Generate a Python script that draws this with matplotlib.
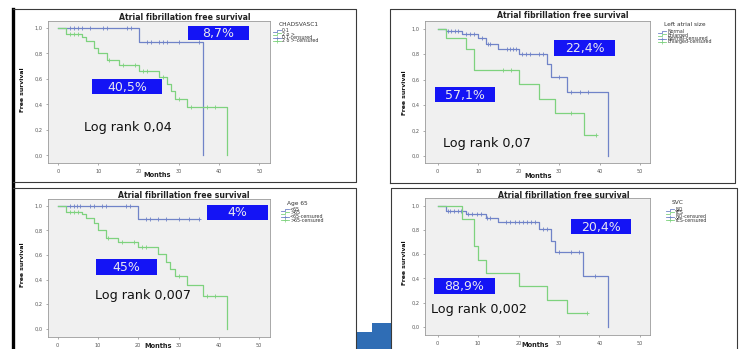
import numpy as np
import matplotlib
matplotlib.use('Agg')
import matplotlib.pyplot as plt
from matplotlib.patches import Rectangle, Polygon

# ---------------- data ----------------
x_ticks = [0, 10, 20, 30, 40, 50]
y_ticks = [0.0, 0.2, 0.4, 0.6, 0.8, 1.0]
y_tick_labels = ["0,0", "0,2", "0,4", "0,6", "0,8", "1,0"]
title_text = "Atrial fibrillation free survival"

# Panel 1: CHADSVASC1
p1_legend_title = "CHADSVASC1"
p1_legend = ["0-1", "2 o >", "0-1-censured", "2 o >-censured"]
p1_blue_t = [0, 20, 36]
p1_blue_s = [1.0, 0.89, 0.0]
p1_blue_end = 36
p1_blue_c = [3, 4, 5, 6, 8, 11, 12, 17, 18, 22, 23, 25, 26, 27, 30, 35]
p1_green_t = [0, 2, 6, 7, 9, 10, 12, 15, 20, 25, 27, 28, 29, 32, 42]
p1_green_s = [1.0, 0.953, 0.927, 0.895, 0.84, 0.806, 0.746, 0.712, 0.665,
              0.613, 0.56, 0.505, 0.442, 0.377, 0.0]
p1_green_end = 42
p1_green_c = [3, 4, 5, 12.5, 16, 19, 21, 22, 26, 30, 33, 37, 39]
p1_labels = ["8,7%", "40,5%", "Log rank 0,04"]

# Panel 2: Left atrial size
p2_legend_title = "Left atrial size"
p2_legend = ["Normal", "Enlarged", "Normal-censured", "Enlarged-censured"]
p2_blue_t = [0, 2, 6, 10, 12, 15, 20, 27, 28, 32, 42]
p2_blue_s = [1.0, 0.984, 0.96, 0.93, 0.877, 0.843, 0.798, 0.72, 0.623, 0.503, 0.0]
p2_blue_end = 42
p2_blue_c = [2.5, 3.3, 4.2, 5, 7, 8, 9, 11, 12.5, 13, 17, 17.8, 18.5, 19.3,
             20.7, 21.8, 22.8, 25, 26, 30, 33, 35, 37]
p2_green_t = [0, 2, 7, 9, 20, 25, 29, 36]
p2_green_s = [1.0, 0.927, 0.843, 0.675, 0.565, 0.448, 0.335, 0.165]
p2_green_end = 39
p2_green_c = [16, 18, 33, 39]
p2_labels = ["22,4%", "57,1%", "Log rank 0,07"]

# Panel 3: Age 65
p3_legend_title = "Age 65"
p3_legend = ["<65", ">65", "<65-censured", ">65-censured"]
p3_blue_t = [0, 20]
p3_blue_s = [1.0, 0.89]
p3_blue_end = 35
p3_blue_c = [3, 4, 4.7, 5.5, 8, 9, 11, 12, 17, 18, 22, 23, 25, 27, 30, 32.6, 35]
p3_green_t = [0, 2, 6, 7, 9, 10, 12, 15, 20, 25, 27, 28, 29, 32, 36, 42]
p3_green_s = [1.0, 0.954, 0.932, 0.899, 0.858, 0.804, 0.741, 0.703, 0.662,
              0.605, 0.545, 0.485, 0.425, 0.354, 0.267, 0.0]
p3_green_end = 42
p3_green_c = [3, 4, 5, 12.5, 16, 19, 21, 22, 30, 37, 39]
p3_labels = ["4%", "45%", "Log rank 0,007"]

# Panel 4: SVC
p4_legend_title = "SVC"
p4_legend = ["NO", "YES", "NO-censured", "YES-censured"]
p4_blue_t = [0, 2, 7, 12, 15, 25, 28, 29, 36, 42]
p4_blue_s = [1.0, 0.961, 0.936, 0.903, 0.87, 0.807, 0.713, 0.622, 0.42, 0.0]
p4_blue_end = 42
p4_blue_c = [2.5, 3, 4, 5, 5.7, 7.6, 8.6, 9.7, 10.6, 12.1, 13, 17, 18, 19, 20,
             21, 22, 23, 24, 26, 27, 30, 33, 35, 39]
p4_green_t = [0, 6, 9, 10, 12, 20, 27, 32]
p4_green_s = [1.0, 0.889, 0.667, 0.556, 0.444, 0.333, 0.222, 0.111]
p4_green_end = 37
p4_green_c = [37]
p4_labels = ["20,4%", "88,9%", "Log rank 0,002"]

# ---------------- style / layout ----------------
W, H = 743, 349
BLUE = '#7083c8'
GREEN = '#7ed27e'
BOXC = '#1414f5'
PLOTBG = '#f0f0f0'

fig = plt.figure(figsize=(W / 100, H / 100), dpi=100)
fig.patch.set_facecolor('white')

bg = fig.add_axes([0, 0, 1, 1], zorder=0)
bg.set_xlim(0, W); bg.set_ylim(H, 0); bg.axis('off')

ov = fig.add_axes([0, 0, 1, 1], zorder=10)
ov.set_xlim(0, W); ov.set_ylim(H, 0); ov.axis('off')
ov.patch.set_alpha(0)


def frac(x0, y0, x1, y1):
    return [x0 / W, 1 - y1 / H, (x1 - x0) / W, (y1 - y0) / H]


# decorative blue shape and frames
bg.add_patch(Polygon([(357, 332), (372, 332), (372, 323), (391, 323), (391, 349), (357, 349)],
                     closed=True, facecolor='#2f6db5', edgecolor='none'))
fc = '#3a3a3a'
bg.plot([13, 13], [9, 349], color='black', lw=2.4)
bg.plot([13, 356, 356, 13], [9, 9, 182, 182], color=fc, lw=0.8)
bg.plot([13, 356, 356], [188, 188, 349], color=fc, lw=0.8)
bg.plot([390, 390, 735, 735, 390], [183, 9, 9, 183, 183], color=fc, lw=0.8)
bg.plot([391, 391, 737, 737], [349, 188, 188, 349], color=fc, lw=0.8)

panels = [
    dict(rect=(48, 21, 270, 163), xlim=(-2.56, 52.66), ylim=(-0.06, 1.055),
         blue=(p1_blue_t, p1_blue_s, p1_blue_end, p1_blue_c),
         green=(p1_green_t, p1_green_s, p1_green_end, p1_green_c),
         ltitle=p1_legend_title, lentries=p1_legend, lpos=(276, 24),
         title=(185, 17), ylab=(23, 90), xlab=(157, 175),
         boxes=[(188, 26, 249, 40), (92, 79, 162, 94)], logpos=(84, 128),
         labels=p1_labels),
    dict(rect=(425, 21, 650, 163), xlim=(-3.14, 52.4), ylim=(-0.055, 1.06),
         blue=(p2_blue_t, p2_blue_s, p2_blue_end, p2_blue_c),
         green=(p2_green_t, p2_green_s, p2_green_end, p2_green_c),
         ltitle=p2_legend_title, lentries=p2_legend, lpos=(661, 25),
         title=(563, 16), ylab=(404, 93), xlab=(538, 176),
         boxes=[(554, 40, 615, 56), (435, 87, 495, 102)], logpos=(443, 144),
         labels=p2_labels),
    dict(rect=(48, 199, 270, 337), xlim=(-2.4, 52.7), ylim=(-0.069, 1.057),
         blue=(p3_blue_t, p3_blue_s, p3_blue_end, p3_blue_c),
         green=(p3_green_t, p3_green_s, p3_green_end, p3_green_c),
         ltitle=p3_legend_title, lentries=p3_legend, lpos=(284, 203),
         title=(184, 195), ylab=(23, 265), xlab=(158, 346.5),
         boxes=[(207, 205, 268, 220), (96, 259, 157, 275)], logpos=(95, 295),
         labels=p3_labels),
    dict(rect=(425, 198, 650, 335), xlim=(-3.14, 52.5), ylim=(-0.069, 1.066),
         blue=(p4_blue_t, p4_blue_s, p4_blue_end, p4_blue_c),
         green=(p4_green_t, p4_green_s, p4_green_end, p4_green_c),
         ltitle=p4_legend_title, lentries=p4_legend, lpos=(669, 203),
         title=(564, 195), ylab=(404, 263), xlab=(535, 345),
         boxes=[(571, 219, 631, 234), (434, 278, 495, 294)], logpos=(431, 310),
         labels=p4_labels),
]


def draw_curve(ax, t, s, end, cens, color):
    tt = list(t); ss = list(s)
    if end > tt[-1]:
        tt.append(end); ss.append(ss[-1])
    ax.step(tt, ss, where='post', color=color, lw=0.9)
    ta = np.array(t); sa = np.array(s)
    cy = [sa[np.searchsorted(ta, c, side='right') - 1] for c in cens]
    ax.plot(cens, cy, linestyle='none', marker='+', ms=3, mew=0.6, color=color)


for p in panels:
    ax = fig.add_axes(frac(*p['rect']), zorder=5)
    ax.set_facecolor(PLOTBG)
    ax.set_xlim(*p['xlim']); ax.set_ylim(*p['ylim'])
    for sp in ax.spines.values():
        sp.set_color('#9a9a9a'); sp.set_linewidth(0.6)
    ax.set_xticks(x_ticks)
    ax.set_xticklabels([str(v) for v in x_ticks])
    ax.set_yticks(y_ticks)
    ax.set_yticklabels(y_tick_labels)
    ax.tick_params(length=1.5, width=0.5, color='#888888', labelsize=3.6,
                   labelcolor='#555555', pad=2.5)
    draw_curve(ax, *p['blue'], BLUE)
    draw_curve(ax, *p['green'], GREEN)

    ov.text(p['title'][0], p['title'][1], title_text, ha='center', va='center',
            fontsize=5.6, fontweight='bold', color='#222222')
    ov.text(p['ylab'][0], p['ylab'][1], "Free survival", ha='center', va='center',
            rotation=90, fontsize=4.4, fontweight='bold', color='#111111',
            family=['Liberation Sans Narrow', 'DejaVu Sans'])
    ov.text(p['xlab'][0], p['xlab'][1], "Months", ha='center', va='center',
            fontsize=4.8, fontweight='bold', color='#222222')

    lx, ly = p['lpos']
    ov.text(lx + 3, ly, p['ltitle'], ha='left', va='center', fontsize=4.2,
            color='#333333')
    cols = [BLUE, GREEN, BLUE, GREEN]
    for i, (lab, c) in enumerate(zip(p['lentries'], cols)):
        yy = ly + 6.5 + i * 3.5
        if i < 2:
            ov.plot([lx - 3, lx + 1, lx + 1, lx + 5], [yy + 1, yy + 1, yy - 1, yy - 1],
                    color=c, lw=0.6)
        else:
            ov.plot([lx - 3, lx + 5], [yy, yy], color=c, lw=0.6)
            ov.plot([lx + 1], [yy], marker='+', ms=2.5, mew=0.5, color=c)
        ov.text(lx + 6, yy, lab, ha='left', va='center', fontsize=3.4,
                color='#333333')

    for (x0, y0, x1, y1), lab in zip(p['boxes'], p['labels'][:2]):
        ov.add_patch(Rectangle((x0, y0), x1 - x0, y1 - y0, facecolor=BOXC,
                               edgecolor='none'))
        ov.text((x0 + x1) / 2, (y0 + y1) / 2 + 0.5, lab, ha='center', va='center',
                fontsize=9, color='#e8e8f0')
    ov.text(p['logpos'][0], p['logpos'][1], p['labels'][2], ha='left', va='center',
            fontsize=9.2, color='#111111')

fig.savefig('out.png', dpi=100, facecolor='white')
